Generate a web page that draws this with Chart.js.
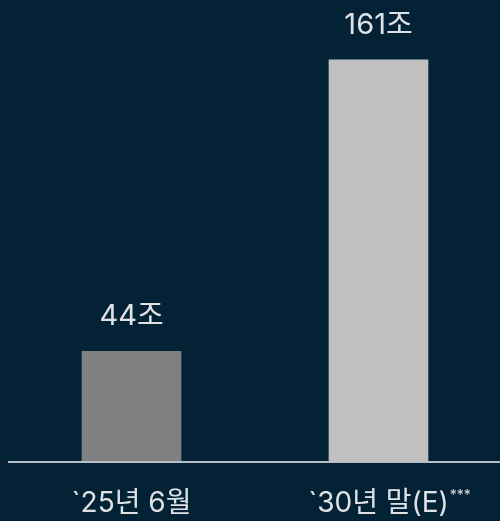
<!DOCTYPE html>
<html>
<head>
<meta charset="utf-8">
<script src="https://cdn.jsdelivr.net/npm/chart.js@4"></script>
<style>
html,body{margin:0;padding:0;background:#032236;overflow:hidden;}
#wrap{width:502px;height:521px;}
</style>
</head>
<body>
<div id="wrap"><canvas id="c" width="502" height="521"></canvas></div>
<script>
const categories = ['`25년 6월', '`30년 말(E)'];
const superscripts = ['', '***'];
const values = [44, 161];
const valueLabels = ['44조', '161조'];

const FONT = "Inter, 'Noto Sans CJK KR', sans-serif";

const overlay = {
  id: 'overlay',
  afterDatasetsDraw(chart) {
    const ctx = chart.ctx;
    const meta = chart.getDatasetMeta(0);
    const area = chart.chartArea;
    ctx.save();
    ctx.strokeStyle = '#b6bec6';
    ctx.lineWidth = 2;
    ctx.beginPath();
    ctx.moveTo(8, area.bottom + 1);
    ctx.lineTo(502, area.bottom + 1);
    ctx.stroke();
    ctx.fillStyle = '#dfe2e5';
    ctx.textBaseline = 'alphabetic';
    meta.data.forEach((bar, i) => {
      ctx.font = '400 29px ' + FONT;
      ctx.textAlign = 'center';
      ctx.fillText(valueLabels[i], bar.x, bar.y - 26);
      const x = chart.scales.x.getPixelForValue(i);
      ctx.font = '400 28px ' + FONT;
      ctx.fillText(categories[i], x, 512);
      if (superscripts[i]) {
        const w = ctx.measureText(categories[i]).width;
        ctx.font = '14px ' + FONT;
        ctx.textAlign = 'left';
        ctx.fillText(superscripts[i], x + w / 2 + 1, 500);
      }
    });
    ctx.restore();
  }
};

new Chart(document.getElementById('c'), {
  type: 'bar',
  data: {
    labels: categories,
    datasets: [{
      data: values,
      backgroundColor: ['#808080', '#c0c0c0'],
      borderWidth: 0,
      barThickness: 99
    }]
  },
  options: {
    responsive: false,
    animation: false,
    layout: { padding: { left: 8, right: 0, top: 0, bottom: 60 } },
    plugins: { legend: { display: false }, tooltip: { enabled: false } },
    scales: {
      x: { display: false, offset: true },
      y: { display: false, min: 0, max: 185 }
    }
  },
  plugins: [overlay]
});
</script>
</body>
</html>
